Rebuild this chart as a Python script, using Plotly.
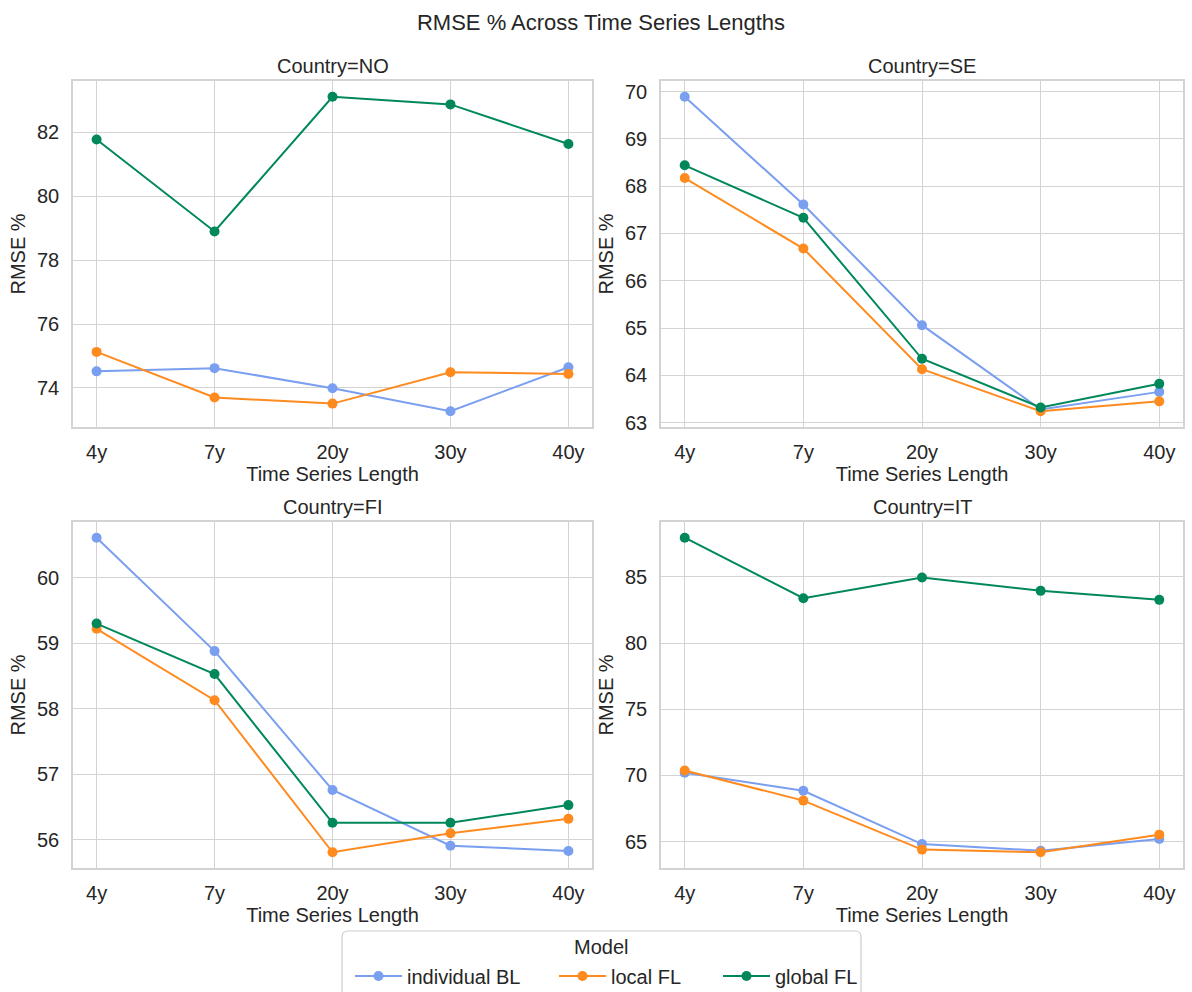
import plotly.graph_objects as go

# ---- data ----
lengths = ["4y", "7y", "20y", "30y", "40y"]
countries = ["NO", "SE", "FI", "IT"]
models = ["individual BL", "local FL", "global FL"]

no_individual = [74.52, 74.62, 73.99, 73.27, 74.65]
no_local = [75.13, 73.70, 73.51, 74.49, 74.44]
no_global = [81.78, 78.90, 83.12, 82.88, 81.64]

se_individual = [69.89, 67.61, 65.06, 63.28, 63.65]
se_local = [68.17, 66.68, 64.13, 63.24, 63.45]
se_global = [68.44, 67.33, 64.35, 63.32, 63.82]

fi_individual = [60.61, 58.88, 56.76, 55.91, 55.83]
fi_local = [59.22, 58.13, 55.81, 56.10, 56.32]
fi_global = [59.30, 58.53, 56.26, 56.26, 56.53]

it_individual = [70.20, 68.84, 64.82, 64.32, 65.20]
it_local = [70.38, 68.10, 64.40, 64.20, 65.53]
it_global = [87.95, 83.38, 84.95, 83.94, 83.26]

series = {
    "NO": [no_individual, no_local, no_global],
    "SE": [se_individual, se_local, se_global],
    "FI": [fi_individual, fi_local, fi_global],
    "IT": [it_individual, it_local, it_global],
}
ytick_step = {"NO": 2, "SE": 1, "FI": 1, "IT": 5}

# ---- styles ----
colors = ["#7a9ff0", "#ff8a1e", "#00885a"]
W, H = 1192, 992
TXT = "#262626"
FONT = "Liberation Sans, Arial, sans-serif"
GRID = "#d3d3d3"
FS = 20

# panel boxes in pixels (left, right, top, bottom)
boxes = {
    "NO": (73, 592, 81, 427),
    "SE": (661, 1183, 81, 427),
    "FI": (73, 592, 522, 868),
    "IT": (661, 1183, 522, 868),
}
legend_names = ["legend", "legend2", "legend3"]
legend_x_px = [350, 554, 718]

fig = go.Figure()
layout = {}
annotations = []

for i, c in enumerate(countries):
    ax = "" if i == 0 else str(i + 1)
    xname, yname = "xaxis" + ax, "yaxis" + ax
    l, r, t, b = boxes[c]
    vals = series[c]
    for m, (name, v) in enumerate(zip(models, vals)):
        fig.add_trace(go.Scatter(
            x=list(range(len(lengths))), y=v, name=name, mode="lines+markers",
            line=dict(color=colors[m], width=2),
            marker=dict(color=colors[m], size=10),
            xaxis="x" + ax, yaxis="y" + ax,
            legend=legend_names[m], legendgroup=name, showlegend=(i == 0),
        ))
    allv = [x for v in vals for x in v]
    lo, hi = min(allv), max(allv)
    pad = (hi - lo) * 0.05
    layout[xname] = dict(
        domain=[l / W, r / W], anchor="y" + ax,
        range=[-0.2, len(lengths) - 1 + 0.2],
        tickmode="array", tickvals=list(range(len(lengths))), ticktext=lengths,
        showgrid=True, gridcolor=GRID, gridwidth=1,
        showline=True, linecolor=GRID, linewidth=1.5, mirror=True,
        zeroline=False, ticks="", ticklabelstandoff=6,
        tickfont=dict(size=FS, color=TXT, family=FONT),
        title=dict(text="Time Series Length", standoff=3,
                   font=dict(size=FS, color=TXT, family=FONT)),
    )
    layout[yname] = dict(
        domain=[1 - b / H, 1 - t / H], anchor="x" + ax,
        range=[lo - pad, hi + pad], dtick=ytick_step[c], tick0=0,
        showgrid=True, gridcolor=GRID, gridwidth=1,
        showline=True, linecolor=GRID, linewidth=1.5, mirror=True,
        zeroline=False, ticks="", ticklabelstandoff=8,
        tickfont=dict(size=FS, color=TXT, family=FONT),
        title=dict(text="RMSE %", standoff=6,
                   font=dict(size=FS, color=TXT, family=FONT)),
    )
    annotations.append(dict(
        text="Country=" + c, x=(l + r) / 2 / W, y=1 - (t - 2) / H,
        xref="paper", yref="paper", xanchor="center", yanchor="bottom",
        showarrow=False, font=dict(size=FS, color=TXT, family=FONT),
    ))

# legend title
annotations.append(dict(
    text="Model", x=601 / W, y=1 - 947 / H, xref="paper", yref="paper",
    xanchor="center", yanchor="middle", showarrow=False,
    font=dict(size=FS, color=TXT, family=FONT),
))

# legend frame (rounded top corners, runs off bottom edge)
L0, L1, T0, B0, R = 342 / W, 861 / W, 1 - 931 / H, -0.02, 6
rx, ry = R / W, R / H
frame_path = (f"M{L0},{B0} L{L0},{T0 - ry} Q{L0},{T0} {L0 + rx},{T0} "
              f"L{L1 - rx},{T0} Q{L1},{T0} {L1},{T0 - ry} L{L1},{B0}")

legends = {}
for k, ln in enumerate(legend_names):
    legends[ln] = dict(
        orientation="h", x=legend_x_px[k] / W, xanchor="left",
        y=1 - 976 / H, yanchor="middle", bgcolor="rgba(0,0,0,0)",
        borderwidth=0, itemwidth=47,
        font=dict(size=FS, color=TXT, family=FONT),
    )

fig.update_layout(
    width=W, height=H,
    margin=dict(l=0, r=0, t=0, b=0, autoexpand=False),
    paper_bgcolor="white", plot_bgcolor="white",
    font=dict(family=FONT, color=TXT, size=FS),
    title=dict(text="RMSE % Across Time Series Lengths", x=601 / W, xanchor="center",
               y=1 - 22 / H, yanchor="middle",
               font=dict(size=22, color=TXT, family=FONT)),
    annotations=annotations,
    shapes=[dict(type="path", path=frame_path, xref="paper", yref="paper",
                 line=dict(color="#cccccc", width=1.2))],
    **legends,
    **layout,
)

fig.write_html("out.html")
